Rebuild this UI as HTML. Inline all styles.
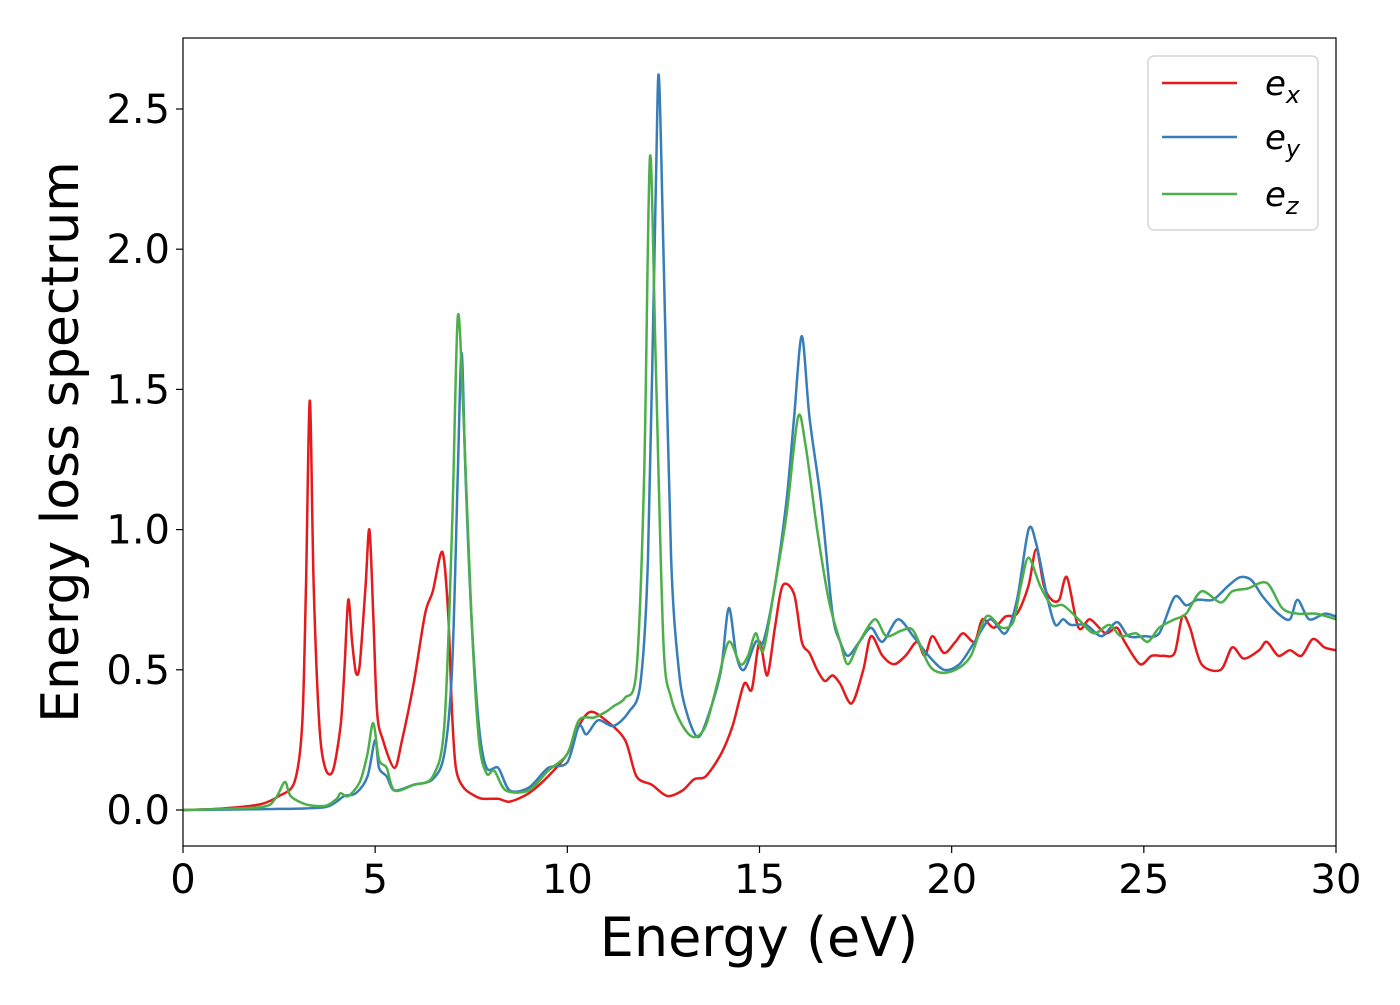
<!DOCTYPE html>
<html><head><meta charset="utf-8"><style>
body{margin:0;background:#fff}
svg text{font-family:"DejaVu Sans","Liberation Sans",sans-serif}
</style></head><body>
<svg id="chart" width="1400" height="1000" xmlns="http://www.w3.org/2000/svg">
<rect width="1400" height="1000" fill="#fff"/>
<g id="plot"></g>
<rect x="183" y="38" width="1153" height="808" fill="none" stroke="#000" stroke-width="1.2"/>
<g id="ticks"></g>
<text x="759" y="956" font-size="54" text-anchor="middle">Energy (eV)</text>
<text transform="translate(78,442) rotate(-90)" font-size="52" text-anchor="middle">Energy loss spectrum</text>
<g>
<rect x="1148" y="56" width="170" height="174" rx="6" fill="#fff" fill-opacity="0.85" stroke="#ccc" stroke-width="1.2"/>
<line x1="1162" y1="83" x2="1237" y2="83" stroke="#e41a1c" stroke-width="2.5"/>
<text x="1265" y="95" font-size="34" font-style="italic">e<tspan font-size="24" dy="8">x</tspan></text>
<line x1="1162" y1="137" x2="1237" y2="137" stroke="#377eb8" stroke-width="2.5"/>
<text x="1265" y="149" font-size="34" font-style="italic">e<tspan font-size="24" dy="8">y</tspan></text>
<line x1="1162" y1="194" x2="1237" y2="194" stroke="#4daf4a" stroke-width="2.5"/>
<text x="1265" y="206" font-size="34" font-style="italic">e<tspan font-size="24" dy="8">z</tspan></text>
</g>
</svg>
<script>
const xTicks=[0,5,10,15,20,25,30];
const yTicks=[0,0.5,1.0,1.5,2.0,2.5];
const yTickLabels=["0.0","0.5","1.0","1.5","2.0","2.5"];
const exX=[0,1,2,2.5,2.9,3.1,3.2,3.3,3.4,3.55,3.7,3.9,4.1,4.2,4.3,4.4,4.5,4.6,4.75,4.85,4.95,5.05,5.2,5.5,5.7,6.0,6.3,6.5,6.75,6.9,7.0,7.1,7.3,7.6,7.8,8.2,8.5,9.0,9.5,10,10.3,10.6,11,11.5,11.8,12.2,12.6,13,13.3,13.6,14,14.3,14.6,14.8,15.0,15.2,15.4,15.6,15.9,16.1,16.3,16.5,16.7,16.9,17.1,17.4,17.7,17.9,18.2,18.5,18.8,19.1,19.3,19.5,19.8,20.1,20.3,20.6,20.8,21.1,21.4,21.7,22.0,22.2,22.4,22.6,22.8,23.0,23.3,23.6,24,24.3,24.5,24.9,25.2,25.5,25.8,26.0,26.2,26.5,27,27.3,27.6,28,28.2,28.5,28.8,29.1,29.4,29.7,30];
const exY=[0,0.005,0.02,0.05,0.1,0.3,0.8,1.46,0.8,0.3,0.15,0.14,0.3,0.5,0.75,0.6,0.49,0.52,0.8,1.0,0.7,0.35,0.25,0.15,0.25,0.45,0.7,0.78,0.92,0.7,0.35,0.15,0.08,0.05,0.04,0.04,0.03,0.06,0.12,0.2,0.3,0.35,0.32,0.25,0.12,0.09,0.05,0.07,0.11,0.12,0.2,0.3,0.45,0.43,0.6,0.48,0.65,0.8,0.77,0.6,0.56,0.5,0.46,0.48,0.45,0.38,0.5,0.62,0.55,0.52,0.55,0.6,0.55,0.62,0.56,0.6,0.63,0.6,0.68,0.65,0.69,0.7,0.8,0.93,0.8,0.75,0.75,0.83,0.65,0.68,0.63,0.65,0.6,0.52,0.55,0.55,0.56,0.69,0.65,0.52,0.5,0.58,0.54,0.57,0.6,0.55,0.57,0.55,0.61,0.58,0.57];
const eyX=[0,2,3,3.7,4.0,4.2,4.5,4.8,5.0,5.1,5.3,5.5,6.0,6.5,6.8,7.0,7.15,7.25,7.35,7.5,7.7,7.9,8.2,8.5,9,9.5,10,10.3,10.5,10.8,11.2,11.6,11.9,12.1,12.3,12.38,12.5,12.7,12.9,13.1,13.4,13.7,14,14.2,14.4,14.6,14.9,15.1,15.4,15.7,15.9,16.1,16.3,16.6,16.9,17.1,17.3,17.6,17.9,18.2,18.6,19,19.4,19.8,20.2,20.6,21,21.4,21.7,22,22.2,22.5,22.7,22.9,23.1,23.5,23.9,24.3,24.6,25,25.4,25.8,26.1,26.4,26.8,27.2,27.5,27.8,28.1,28.5,28.8,29.0,29.3,29.7,30];
const eyY=[0,0.003,0.005,0.01,0.03,0.05,0.06,0.12,0.25,0.15,0.12,0.07,0.09,0.11,0.2,0.5,1.2,1.63,1.2,0.7,0.3,0.15,0.15,0.07,0.08,0.15,0.17,0.3,0.27,0.32,0.3,0.35,0.45,0.9,2.2,2.62,2.0,0.9,0.5,0.35,0.26,0.35,0.5,0.72,0.55,0.5,0.6,0.6,0.8,1.1,1.4,1.69,1.4,1.1,0.7,0.6,0.55,0.6,0.65,0.6,0.68,0.62,0.55,0.5,0.52,0.6,0.68,0.63,0.75,1.0,0.95,0.75,0.66,0.68,0.66,0.66,0.62,0.67,0.62,0.62,0.63,0.76,0.73,0.75,0.75,0.8,0.83,0.82,0.76,0.7,0.68,0.75,0.68,0.7,0.69];
const ezX=[0,2,2.4,2.65,2.8,3.2,3.7,4.0,4.1,4.3,4.6,4.8,4.95,5.1,5.3,5.5,6,6.5,6.8,7.0,7.15,7.3,7.5,7.7,7.9,8.1,8.4,9,9.5,10,10.3,10.7,11,11.2,11.5,11.8,12.0,12.15,12.3,12.5,12.7,13.0,13.3,13.6,13.9,14.2,14.5,14.7,14.9,15.1,15.4,15.7,16.0,16.2,16.5,16.8,17.1,17.3,17.6,18.0,18.3,18.7,19,19.4,19.7,20.1,20.5,20.9,21.3,21.6,21.8,22.0,22.3,22.6,22.9,23.3,23.7,24.1,24.4,24.8,25.1,25.4,25.8,26.1,26.5,27.0,27.3,27.7,28.2,28.6,29.0,29.5,30];
const ezY=[0,0.01,0.04,0.1,0.05,0.02,0.015,0.04,0.06,0.05,0.1,0.2,0.31,0.18,0.15,0.07,0.09,0.12,0.3,1.0,1.76,1.4,0.7,0.25,0.13,0.14,0.07,0.07,0.14,0.2,0.32,0.33,0.35,0.37,0.4,0.5,1.2,2.33,1.6,0.6,0.4,0.3,0.26,0.3,0.45,0.6,0.52,0.55,0.63,0.57,0.8,1.05,1.4,1.3,1.0,0.75,0.6,0.52,0.6,0.68,0.62,0.64,0.64,0.52,0.49,0.5,0.55,0.69,0.65,0.67,0.8,0.9,0.8,0.73,0.73,0.68,0.63,0.66,0.62,0.63,0.6,0.65,0.68,0.7,0.78,0.74,0.78,0.79,0.81,0.72,0.7,0.7,0.68];
const NS="http://www.w3.org/2000/svg";
const xs=v=>183+v*(1153/30);
const ys=v=>810-v*(701/2.5);
const plot=document.getElementById('plot');
const ticks=document.getElementById('ticks');
function mk(tag,attrs,parent){const e=document.createElementNS(NS,tag);for(const k in attrs)e.setAttribute(k,attrs[k]);parent.appendChild(e);return e;}
function path(X,Y){
  const p=X.map((x,i)=>[xs(x),ys(Y[i])]);
  let d="M"+p[0][0]+","+p[0][1];
  for(let i=0;i<p.length-1;i++){
    const p0=p[i-1]||p[i],p1=p[i],p2=p[i+1],p3=p[i+2]||p2;
    const t=0.15;
    const c1x=p1[0]+(p2[0]-p0[0])*t,c1y=p1[1]+(p2[1]-p0[1])*t;
    const c2x=p2[0]-(p3[0]-p1[0])*t,c2y=p2[1]-(p3[1]-p1[1])*t;
    d+=" C"+c1x.toFixed(1)+","+c1y.toFixed(1)+" "+c2x.toFixed(1)+","+c2y.toFixed(1)+" "+p2[0].toFixed(1)+","+p2[1].toFixed(1);
  }
  return d;
}
const series=[[exX,exY,"#e41a1c","series-ex"],[eyX,eyY,"#377eb8","series-ey"],[ezX,ezY,"#4daf4a","series-ez"]];
series.forEach(s=>{
  const el=mk('path',{d:path(s[0],s[1]),fill:"none",stroke:s[2],"stroke-width":2.5,"stroke-linejoin":"round"},plot);
  
  
});
xTicks.forEach(v=>{
  const l=mk('line',{x1:xs(v),x2:xs(v),y1:846,y2:853,stroke:"#000","stroke-width":1.2},ticks);
  
  
  const t=mk('text',{x:xs(v),y:893,"font-size":40,"text-anchor":"middle"},ticks);
  t.textContent=v;
  
  
});
yTicks.forEach((v,i)=>{
  const l=mk('line',{x1:176,x2:183,y1:ys(v),y2:ys(v),stroke:"#000","stroke-width":1.2},ticks);
  
  
  const t=mk('text',{x:170,y:ys(v)+14,"font-size":40,"text-anchor":"end"},ticks);
  t.textContent=yTickLabels[i];
  
  
});
</script>
</body></html>
